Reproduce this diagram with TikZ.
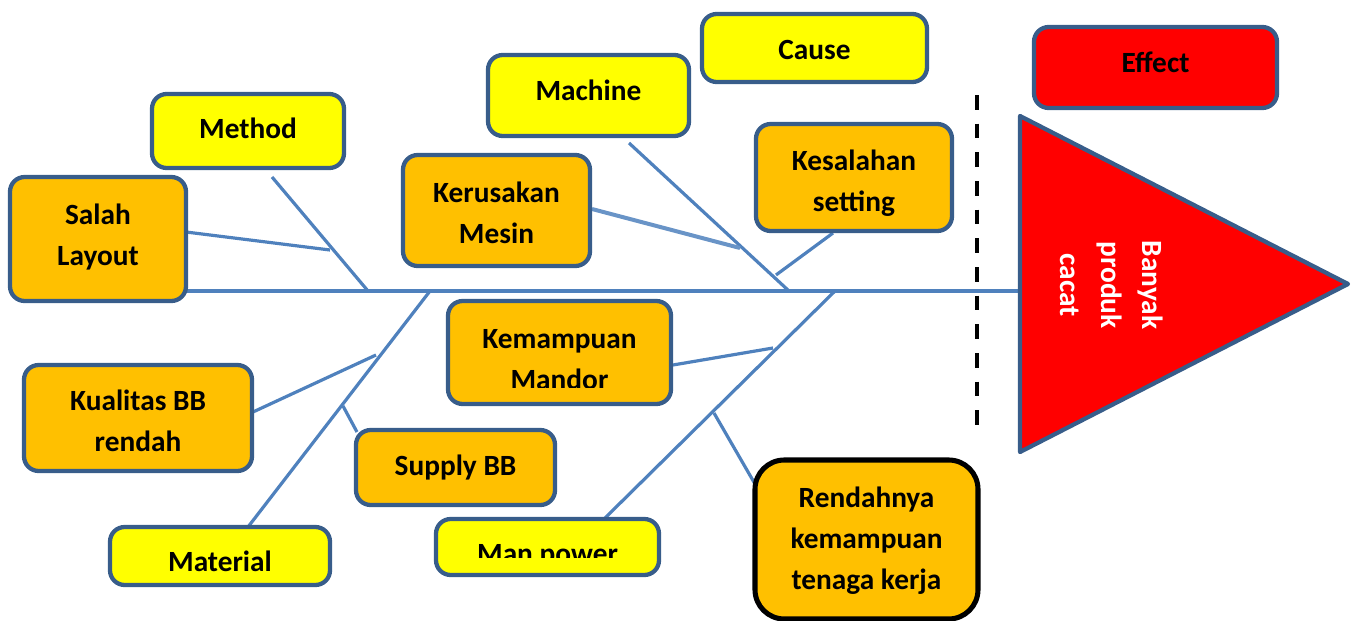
\documentclass[tikz,border=0pt]{standalone}
\usepackage{fontspec}
\setmainfont{Carlito}
\definecolor{boxline}{RGB}{56,93,138}
\definecolor{boneblue}{RGB}{79,129,189}
\definecolor{ylw}{RGB}{255,255,0}
\definecolor{org}{RGB}{255,192,0}
\definecolor{rd}{RGB}{255,0,0}
\begin{document}
\begin{tikzpicture}[x=0.75pt,y=-0.75pt,
  box/.style={draw=boxline, line width=3.2pt, rounded corners=11pt, inner sep=0pt},
  ybox/.style={box, fill=ylw},
  obox/.style={box, fill=org},
  lbl/.style={font=\fontsize{22}{30.75}\selectfont\bfseries, align=center, inner sep=0pt},
  bone/.style={draw=boneblue, line width=2.4pt},
  dashline/.style={draw=black, line width=3pt, dash pattern=on 11pt off 10.5pt}]
\useasboundingbox (0,0) rectangle (1354,621);

% coordinates for bones
\coordinate (spineL) at (184,291);
\coordinate (triL) at (1020,291);
\coordinate (t1) at (1020,116);
\coordinate (t2) at (1348,284);
\coordinate (t3) at (1020,452);
\coordinate (mt1) at (272,177);  \coordinate (mt2) at (368,291);
\coordinate (sl1) at (186,232);  \coordinate (sl2) at (330,250);
\coordinate (mc1) at (629,143);  \coordinate (mc2) at (789,291);
\coordinate (kr1) at (592,209);  \coordinate (kr2) at (740,248);
\coordinate (ks1) at (833,233);  \coordinate (ks2) at (776,275);
\coordinate (ma1) at (430,291);  \coordinate (ma2) at (248,527);
\coordinate (kb1) at (253,412);  \coordinate (kb2) at (376,355);
\coordinate (sb1) at (343,406);  \coordinate (sb2) at (357,432);
\coordinate (mp1) at (835,291);  \coordinate (mp2) at (603,520);
\coordinate (km1) at (673,365);  \coordinate (km2) at (773,348);
\coordinate (rk1) at (714,413);  \coordinate (rk2) at (755,484);
\coordinate (ds1) at (977,95);   \coordinate (ds2) at (977,438);

% spine and bones
\draw[bone] (spineL) -- (triL);
\draw[bone] (mt1) -- (mt2);
\draw[bone] (sl1) -- (sl2);
\draw[bone] (mc1) -- (mc2);
\draw[bone, line width=3pt, draw=boneblue!85!white] (kr1) -- (kr2);
\draw[bone] (ks1) -- (ks2);
\draw[bone] (ma1) -- (ma2);
\draw[bone] (kb1) -- (kb2);
\draw[bone] (sb1) -- (sb2);
\draw[bone] (mp1) -- (mp2);
\draw[bone] (km1) -- (km2);
\draw[bone] (rk1) -- (rk2);

% dashed separator
\draw[dashline] (ds1) -- (ds2);

% effect triangle
\draw[draw=boxline, line width=3.2pt, fill=rd, line join=round] (t1) -- (t2) -- (t3) -- cycle;
\node[lbl, text=white, rotate=-90] (tritext) at (1112,285) {Banyak\\produk\\cacat};

% boxes
\node[ybox, minimum width=168.75pt, minimum height=51pt] (cause) at (814.5,48) {};
\node[lbl, anchor=base] (causet) at (814.5,59) {Cause};

\node[ybox, minimum width=150.75pt, minimum height=60.75pt] (machine) at (588.5,95.5) {};
\node[lbl, anchor=base] (machinet) at (588.5,100) {Machine};

\node[box, fill=rd, minimum width=182.25pt, minimum height=60.75pt] (effect) at (1155.5,67.5) {};
\node[lbl, anchor=base] (effectt) at (1155.5,72) {Effect};

\node[ybox, minimum width=144pt, minimum height=55.5pt] (method) at (248,131) {};
\node[lbl, anchor=base] (methodt) at (248,138) {Method};

\node[obox, minimum width=132pt, minimum height=93pt] (salah) at (98,239) {};
\node[lbl] (salaht) at (98,237.5) {Salah\\Layout};

\node[obox, minimum width=140.25pt, minimum height=83.25pt] (kerusakan) at (496.5,210.5) {};
\node[lbl] (kerusakant) at (496.5,213) {Kerusakan\\Mesin};

\node[obox, minimum width=147pt, minimum height=80.25pt] (kesalahan) at (854,177.5) {};
\node[lbl] (kesalahant) at (854,183) {Kesalahan\\setting};

\node[obox, minimum width=167.25pt, minimum height=77.25pt] (kemampuan) at (559.5,352.5) {};
\begin{scope}
  \clip (448,300) rectangle (671,387);
  \node[lbl] (kemampuant) at (559.5,360) {Kemampuan\\Mandor};
\end{scope}

\node[obox, minimum width=171pt, minimum height=79.5pt] (kualitas) at (138,418) {};
\node[lbl] (kualitast) at (138,421) {Kualitas BB\\rendah};

\node[obox, minimum width=149.25pt, minimum height=56.25pt] (supply) at (455.5,467.5) {};
\node[lbl, anchor=base] (supplyt) at (455.5,475) {Supply BB};

\node[ybox, minimum width=165pt, minimum height=43.5pt] (material) at (220,556) {};
\node[lbl, anchor=base] (materialt) at (220,571) {Material};

\node[ybox, minimum width=167.25pt, minimum height=42pt] (manpower) at (547.5,547) {};
\begin{scope}
  \clip (436,519) rectangle (659,557);
  \node[lbl, anchor=base] (manpowert) at (547.5,563) {Man power};
\end{scope}

\node[box, draw=black, line width=3.8pt, rounded corners=22pt, fill=org, minimum width=167.25pt, minimum height=119.25pt] (rendahnya) at (866.5,539.5) {};
\node[lbl] (rendahnyat) at (866.5,541) {Rendahnya\\kemampuan\\tenaga kerja};
\end{tikzpicture}
\end{document}
